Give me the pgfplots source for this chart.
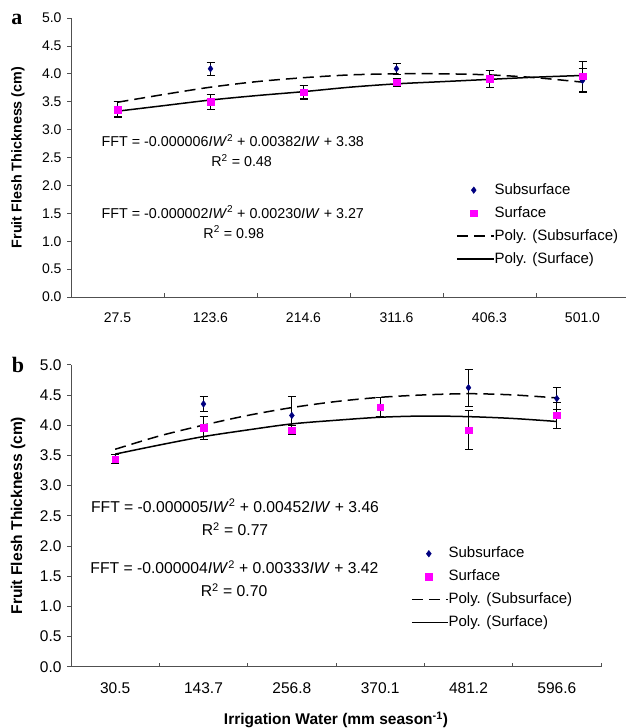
\documentclass[border=0pt]{standalone}
\usepackage{fontspec}
\setmainfont{Liberation Sans}
\newfontfamily\lserif{Liberation Serif}
\usepackage{pgfplots}
\pgfplotsset{compat=1.18}
\definecolor{navy}{HTML}{000080}
\definecolor{pinkm}{HTML}{FF00FF}
\definecolor{axgray}{HTML}{505050}
\pgfplotsset{
  linelegend/.style={legend image code/.code={\draw[##1] (0pt,0pt) -- (#1,0pt);}},
  marklegend/.style 2 args={legend image code/.code={\path[draw=none,fill=none] (0pt,-1pt) rectangle (#1,1pt); \draw[##1, only marks] plot coordinates {(#2,0pt)};}},
  myaxis/.style={
    scale only axis, anchor=south west,
    xmin=0.5, xmax=6.5, ymin=0, ymax=5,
    axis lines*=left,
    axis line style={axgray, line width=0.9pt},
    tick align=outside,
    major tick length=4pt,
    minor tick length=4pt,
    ytick={0,0.5,1,1.5,2,2.5,3,3.5,4,4.5,5},
    yticklabel style={/pgf/number format/fixed, /pgf/number format/fixed zerofill, /pgf/number format/precision=1},
    /pgf/number format/assume math mode=true,
    y tick style={axgray, line width=0.7pt},
    xtick={1,2,3,4,5,6},
    minor xtick={0.5,1.5,2.5,3.5,4.5,5.5,6.5},
    major x tick style={draw=none},
    minor x tick style={axgray, line width=0.7pt, yshift=4pt},
    every axis y label/.style={at={(axis description cs:0,0.5)}, xshift=-53pt, rotate=90, anchor=center},
    clip=false,
    legend cell align=left,
  },
  errstyle/.style={error bars/y dir=both, error bars/y explicit,
    error bars/error bar style={black, line width=0.8pt},
    error bars/error mark options={rotate=90, black, mark size=4pt, line width=0.8pt}},
}
\begin{document}
\begin{tikzpicture}
\path[use as bounding box] (0pt,0pt) rectangle (625pt,728pt);
\node[font=\lserif\bfseries\fontsize{22}{24}\selectfont] at (17pt,709pt) {a};
\node[font=\lserif\bfseries\fontsize{22}{24}\selectfont] at (18pt,363pt) {b};
% ---------------- panel a
\begin{axis}[myaxis, at={(71pt,431pt)}, width=558pt, height=279pt,
  xticklabels={27.5,123.6,214.6,311.6,406.3,501.0},
  ticklabel style={font=\fontsize{14}{16}\selectfont},
  xticklabel style={yshift=-8pt},
  yticklabel style={xshift=-2pt},
  ylabel={\bfseries Fruit Flesh Thickness (cm)},
  ylabel style={font=\fontsize{14.3}{16}\selectfont\bfseries},
  legend style={at={(axis cs:4.64,2.04)}, anchor=north west, draw=none, fill=none,
    inner sep=0pt, outer sep=0pt, row sep=9pt,
    font=\fontsize{15}{17}\selectfont,
    nodes={inner sep=0pt, text height=11pt, text depth=3pt},
    /tikz/every even column/.append style={column sep=4pt}},
]
\addplot[only marks, mark=diamond*, mark size=3.3pt, color=navy, marklegend={37pt}{17pt}, errstyle]
 table[x=x, y=y, y error=e] {
x y e
1 3.37 0.13
2 4.09 0.11
3 3.68 0.12
4 4.09 0.10
5 3.91 0.15
6 3.88 0.22
};
\addlegendentry{Subsurface}
\addplot[only marks, mark=square*, mark size=3.2pt, color=pinkm, marklegend={37pt}{17pt}, errstyle]
 table[x=x, y=y, y error=e] {
x y e
1 3.36 0.14
2 3.50 0.13
3 3.67 0.13
4 3.85 0.07
5 3.91 0.15
6 3.96 0.27
};
\addlegendentry{Surface}
\addplot[black, line width=1.5pt, dash pattern=on 11pt off 6pt, smooth, linelegend={37pt}] coordinates {
(1,3.49) (1.5,3.63) (2,3.76) (2.5,3.86) (3,3.93) (3.5,3.98) (4,4.00) (4.5,4.00) (5,3.98) (5.5,3.93) (6,3.85)};
\addlegendentry{Poly. (Subsurface)}
\addplot[black, line width=1.5pt, smooth, linelegend={37pt}] coordinates {
(1,3.33) (1.5,3.43) (2,3.53) (2.5,3.61) (3,3.68) (3.5,3.76) (4,3.82) (4.5,3.86) (5,3.90) (5.5,3.94) (6,3.97)};
\addlegendentry{Poly. (Surface)}
\node[font=\fontsize{14.3}{16}\selectfont] at (axis cs:2.24,2.81) {FFT = -0.000006\textit{IW}\textsuperscript{2} + 0.00382\textit{IW} + 3.38};
\node[font=\fontsize{14.3}{16}\selectfont] at (axis cs:2.335,2.44) {R\textsuperscript{2} = 0.48};
\node[font=\fontsize{14.3}{16}\selectfont] at (axis cs:2.24,1.52) {FFT = -0.000002\textit{IW}\textsuperscript{2} + 0.00230\textit{IW} + 3.27};
\node[font=\fontsize{14.3}{16}\selectfont] at (axis cs:2.25,1.165) {R\textsuperscript{2} = 0.98};
\end{axis}
% ---------------- panel b
\begin{axis}[myaxis, at={(71pt,61.3pt)}, width=530pt, height=302pt,
  xticklabels={30.5,143.7,256.8,370.1,481.2,596.6},
  ticklabel style={font=\fontsize{15.5}{17}\selectfont},
  xticklabel style={yshift=-8pt},
  yticklabel style={xshift=-2pt},
  ylabel={\bfseries Fruit Flesh Thickness (cm)},
  ylabel style={font=\fontsize{15.6}{17}\selectfont\bfseries},
  xlabel={\bfseries Irrigation Water (mm season\textsuperscript{-1})},
  every axis x label/.style={at={(axis description cs:0.5,0)}, anchor=center, yshift=-53pt},
  xlabel style={font=\fontsize{15.5}{17}\selectfont\bfseries},
  legend style={at={(axis cs:4.35,1.986)}, anchor=north west, draw=none, fill=none,
    inner sep=0pt, outer sep=0pt, row sep=9pt,
    font=\fontsize{15}{17}\selectfont,
    nodes={inner sep=0pt, text height=11pt, text depth=3pt},
    /tikz/every even column/.append style={column sep=5pt}},
]
\addplot[only marks, mark=diamond*, mark size=3.3pt, color=navy, marklegend={36pt}{17pt}, errstyle]
 table[x=x, y=y, y error=e] {
x y e
1 3.44 0.08
2 4.35 0.12
3 4.16 0.31
4 4.30 0.16
5 4.62 0.31
6 4.44 0.18
};
\addlegendentry{Subsurface}
\addplot[only marks, mark=square*, mark size=3.2pt, color=pinkm, marklegend={36pt}{17pt}, errstyle]
 table[x=x, y=y, y error=e] {
x y e
1 3.44 0.08
2 3.96 0.19
3 3.92 0.07
4 4.30 0.16
5 3.92 0.32
6 4.16 0.21
};
\addlegendentry{Surface}
\addplot[black, line width=1.5pt, dash pattern=on 11pt off 6pt, smooth, linelegend={36pt}] coordinates {
(1,3.60) (1.5,3.82) (2,4.00) (2.5,4.16) (3,4.29) (3.5,4.39) (4,4.46) (4.5,4.50) (5,4.52) (5.5,4.50) (6,4.45)};
\addlegendentry{Poly. (Subsurface)}
\addplot[black, line width=1.5pt, smooth, linelegend={36pt}] coordinates {
(1,3.52) (1.5,3.67) (2,3.81) (2.5,3.92) (3,4.02) (3.5,4.08) (4,4.13) (4.5,4.15) (5,4.14) (5.5,4.11) (6,4.06)};
\addlegendentry{Poly. (Surface)}
\node[font=\fontsize{15.7}{17}\selectfont] at (axis cs:2.357,2.666) {FFT = -0.000005\textit{IW}\textsuperscript{2} + 0.00452\textit{IW} + 3.46};
\node[font=\fontsize{15.7}{17}\selectfont] at (axis cs:2.357,2.28) {R\textsuperscript{2} = 0.77};
\node[font=\fontsize{15.7}{17}\selectfont] at (axis cs:2.35,1.65) {FFT = -0.000004\textit{IW}\textsuperscript{2} + 0.00333\textit{IW} + 3.42};
\node[font=\fontsize{15.7}{17}\selectfont] at (axis cs:2.346,1.27) {R\textsuperscript{2} = 0.70};
\end{axis}
\end{tikzpicture}
\end{document}
